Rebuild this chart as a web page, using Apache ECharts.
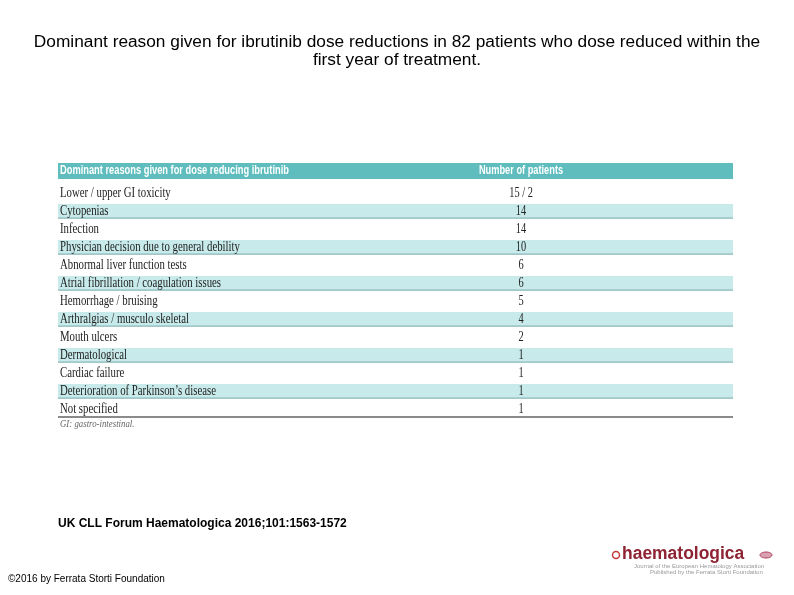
<!DOCTYPE html>
<html>
<head>
<meta charset="utf-8">
<script src="https://cdn.jsdelivr.net/npm/echarts@6/dist/echarts.min.js"></script>
<style>
html,body{margin:0;padding:0;background:#fff;}
#chart{width:794px;height:595px;}
</style>
</head>
<body>
<div id="chart"></div>
<script>
// ---- data ----
const titleText = 'Dominant reason given for ibrutinib dose reductions in 82 patients who dose reduced within the\nfirst year of treatment.';
const columnHeaders = ['Dominant reasons given for dose reducing ibrutinib', 'Number of patients'];
const reasons = [
  'Lower / upper GI toxicity',
  'Cytopenias',
  'Infection',
  'Physician decision due to general debility',
  'Abnormal liver function tests',
  'Atrial fibrillation / coagulation issues',
  'Hemorrhage / bruising',
  'Arthralgias / musculo skeletal',
  'Mouth ulcers',
  'Dermatological',
  'Cardiac failure',
  'Deterioration of Parkinson\u2019s disease',
  'Not specified'
];
const patientCounts = ['15 / 2', '14', '14', '10', '6', '6', '5', '4', '2', '1', '1', '1', '1'];
const footnote = 'GI: gastro-intestinal.';
const citation = 'UK CLL Forum Haematologica 2016;101:1563-1572';
const copyright = '\u00a92016 by Ferrata Storti Foundation';

// ---- styles ----
const HEADER_BG = '#5fbdbe';
const BAND_BG = '#c8eaea';
const BAND_LINE = '#86b6b8';
const TEXT = '#222';
const COUNT_COL = 0.686; // fraction of table width where count column is centred

const chart = echarts.init(document.getElementById('chart'), null, {renderer: 'canvas'});

const GRID = {left: 58, right: 61, top: 184, height: 234};

function renderRow(params, api) {
  const idx = api.value(1);
  const pt = api.coord([0, idx]);
  const cs = params.coordSys;
  const cy = pt[1];
  const children = [];
  if (idx % 2 === 1) {
    children.push({type: 'rect', shape: {x: cs.x, y: cy - 7, width: cs.width, height: 14}, style: {fill: BAND_BG}});
    children.push({type: 'rect', shape: {x: cs.x, y: cy + 6.5, width: cs.width, height: 1.2}, style: {fill: BAND_LINE}});
  }
  children.push({
    type: 'text', x: cs.x + 2, y: cy, scaleX: 0.77,
    style: {text: reasons[idx], fontFamily: 'Liberation Serif', fontSize: 14, fill: TEXT, align: 'left', verticalAlign: 'middle'}
  });
  children.push({
    type: 'text', x: cs.x + cs.width * COUNT_COL, y: cy, scaleX: 0.74,
    style: {text: patientCounts[idx], fontFamily: 'Liberation Serif', fontSize: 14, fill: TEXT, align: 'center', verticalAlign: 'middle'}
  });
  return {type: 'group', children: children};
}

const option = {
  backgroundColor: '#fff',
  animation: false,
  title: {
    text: titleText,
    left: 'center',
    top: 28,
    textStyle: {fontFamily: 'Liberation Sans', fontSize: 17.3, fontWeight: 'normal', color: '#000', lineHeight: 18, align: 'center'}
  },
  grid: GRID,
  xAxis: {type: 'value', min: 0, max: 1, show: false},
  yAxis: {type: 'category', data: reasons, inverse: true, show: false},
  series: [{
    type: 'custom',
    coordinateSystem: 'cartesian2d',
    renderItem: renderRow,
    encode: {x: 0, y: 1},
    data: reasons.map((r, i) => [0, i]),
    silent: true,
    clip: false
  }],
  graphic: [
    {type: 'rect', left: 58, top: 163, shape: {width: 675, height: 16}, style: {fill: HEADER_BG}},
    {type: 'text', x: 60, y: 171, scaleX: 0.775,
      style: {text: columnHeaders[0], fontFamily: 'Liberation Sans', fontWeight: 'bold', fontSize: 12, fill: '#fff', align: 'left', verticalAlign: 'middle'}},
    {type: 'text', x: 521, y: 171, scaleX: 0.77,
      style: {text: columnHeaders[1], fontFamily: 'Liberation Sans', fontWeight: 'bold', fontSize: 12, fill: '#fff', align: 'center', verticalAlign: 'middle'}},
    {type: 'rect', left: 58, top: 416, shape: {width: 675, height: 2}, style: {fill: '#8a8a8a'}},
    {type: 'text', x: 60, y: 424, scaleX: 0.88,
      style: {text: footnote, fontFamily: 'Liberation Serif', fontStyle: 'italic', fontSize: 10, fill: '#666', align: 'left', verticalAlign: 'middle'}},
    {type: 'text', x: 58, y: 524, scaleX: 1.0,
      style: {text: citation, fontFamily: 'Liberation Sans', fontWeight: 'bold', fontSize: 12, fill: '#000', align: 'left', verticalAlign: 'middle'}},
    {type: 'text', x: 8, y: 579,
      style: {text: copyright, fontFamily: 'Liberation Sans', fontSize: 10, fill: '#000', align: 'left', verticalAlign: 'middle'}},
    // publisher logo (approximation)
    {type: 'circle', shape: {cx: 616, cy: 555, r: 3.5}, style: {fill: '#fff', stroke: '#c23a3a', lineWidth: 1.5}},
    {type: 'text', x: 622, y: 554, scaleX: 0.97,
      style: {text: 'haematologica', fontFamily: 'Liberation Sans', fontWeight: 'bold', fontSize: 18, fill: '#8e2333', align: 'left', verticalAlign: 'middle'}},
    {type: 'text', x: 634, y: 566,
      style: {text: 'Journal of the European Hematology Association', fontFamily: 'Liberation Sans', fontSize: 6, fill: '#999', align: 'left', verticalAlign: 'middle'}},
    {type: 'text', x: 650, y: 572,
      style: {text: 'Published by the Ferrata Storti Foundation', fontFamily: 'Liberation Sans', fontSize: 6, fill: '#999', align: 'left', verticalAlign: 'middle'}},
    {type: 'ellipse', shape: {cx: 766, cy: 555, rx: 6, ry: 3}, style: {fill: '#d8a0b0', stroke: '#b04060', lineWidth: 1}}
  ]
};
chart.setOption(option);
</script>
</body>
</html>
